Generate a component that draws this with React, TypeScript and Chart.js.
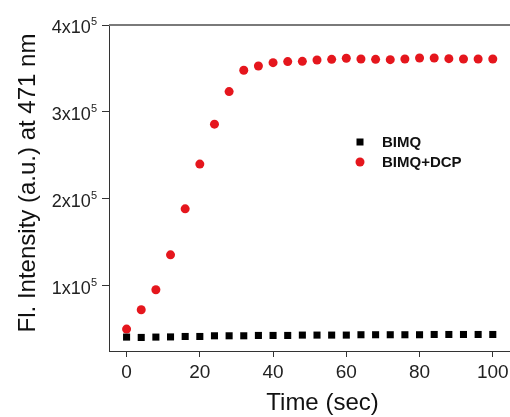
import React, { useEffect, useRef } from 'react';
import { Chart, registerables } from 'chart.js';

Chart.register(...registerables);

const timeSec = [0, 4, 8, 12, 16, 20, 24, 28, 32, 36, 40, 44, 48, 52, 56, 60, 64, 68, 72, 76, 80, 84, 88, 92, 96, 100];
const bimq = [41000, 40600, 41000, 41200, 41700, 41700, 42500, 42500, 42500, 42900, 42900, 42900, 43300, 43300, 43300, 43300, 43700, 43700, 43700, 43700, 43700, 44000, 44000, 44000, 44000, 44000];
const bimqDcp = [50200, 72400, 95400, 135600, 188500, 240000, 285900, 323400, 347900, 352900, 356700, 357900, 358200, 359800, 360500, 361700, 360900, 360500, 360100, 360900, 362100, 362100, 361300, 360900, 360900, 360900];
const seriesLabels = ['BIMQ', 'BIMQ+DCP'];
const xTickValues = [0, 20, 40, 60, 80, 100];
const yTickValues = [100000, 200000, 300000, 400000];
const xTitle = 'Time (sec)';
const yTitle = 'Fl. Intensity (a.u.) at 471 nm';

const FONT = '"Liberation Sans", Arial, sans-serif';

export default function App() {
  const ref = useRef<HTMLCanvasElement>(null);

  useEffect(() => {
    document.body.style.margin = '0';
    const canvas = ref.current;
    if (!canvas) return;

    const decor = {
      id: 'decor',
      afterDraw(chart: any) {
        const ctx = chart.ctx as CanvasRenderingContext2D;
        const area = chart.chartArea;
        const ys = chart.scales.y;
        ctx.save();
        // top frame line
        ctx.strokeStyle = '#7a7a7a';
        ctx.lineWidth = 2;
        ctx.beginPath();
        ctx.moveTo(area.left, area.top);
        ctx.lineTo(area.right, area.top);
        ctx.stroke();

        // y tick labels with superscript exponent
        ctx.fillStyle = '#222';
        ctx.textAlign = 'right';
        ctx.textBaseline = 'alphabetic';
        yTickValues.forEach((v) => {
          const py = ys.getPixelForValue(v);
          const exp = Math.floor(Math.log10(v));
          const mant = Math.round(v / Math.pow(10, exp));
          const right = area.left - 12;
          ctx.font = `11px ${FONT}`;
          const supW = ctx.measureText(String(exp)).width;
          ctx.fillText(String(exp), right, py);
          ctx.font = `18px ${FONT}`;
          ctx.fillText(`${mant}x10`, right - supW, py + 8);
        });

        // axis titles
        ctx.fillStyle = '#111';
        ctx.font = `24px ${FONT}`;
        ctx.textAlign = 'center';
        ctx.textBaseline = 'middle';
        ctx.fillText(xTitle, (area.left + area.right) / 2 + 13, area.bottom + 52);
        ctx.save();
        ctx.translate(28, (area.top + area.bottom) / 2 - 5);
        ctx.rotate(-Math.PI / 2);
        ctx.fillText(yTitle, 0, 0);
        ctx.restore();

        // legend
        const lx = area.left + 251;
        const ly = area.top + 117;
        chart.data.datasets.forEach((ds: any, i: number) => {
          const cy = ly + i * 20;
          ctx.fillStyle = ds.backgroundColor;
          if (ds.pointStyle === 'rect') {
            ctx.fillRect(lx - 3.5, cy - 3.5, 7, 7);
          } else {
            ctx.beginPath();
            ctx.arc(lx, cy, 4.5, 0, Math.PI * 2);
            ctx.fill();
          }
          ctx.fillStyle = '#111';
          ctx.font = `bold 15px ${FONT}`;
          ctx.textAlign = 'left';
          ctx.textBaseline = 'middle';
          ctx.fillText(ds.label, lx + 22, cy + 1);
        });
        ctx.restore();
      },
    };

    const chart = new Chart(canvas, {
      type: 'scatter',
      data: {
        datasets: [
          {
            label: seriesLabels[0],
            data: timeSec.map((t, i) => ({ x: t, y: bimq[i] })),
            pointStyle: 'rect',
            pointRadius: 5,
            pointBorderWidth: 0,
            backgroundColor: '#000000',
            borderColor: '#000000',
          },
          {
            label: seriesLabels[1],
            data: timeSec.map((t, i) => ({ x: t, y: bimqDcp[i] })),
            pointStyle: 'circle',
            pointRadius: 4.5,
            pointBorderWidth: 0,
            backgroundColor: '#e5161d',
            borderColor: '#e5161d',
          },
        ],
      } as any,
      options: {
        animation: false,
        responsive: false,
        devicePixelRatio: 1,
        events: [],
        layout: { autoPadding: false, padding: { top: 25, right: 0, left: 0, bottom: 0 } },
        plugins: { legend: { display: false }, tooltip: { enabled: false } },
        scales: {
          x: {
            type: 'linear',
            min: -4.8,
            max: 104.7,
            afterBuildTicks: (s: any) => {
              s.ticks = xTickValues.map((value) => ({ value }));
            },
            afterFit: (s: any) => {
              s.height = 66;
              s.paddingLeft = 0;
              s.paddingRight = 0;
            },
            grid: { drawOnChartArea: false, drawTicks: true, tickLength: 6, tickColor: '#333' },
            border: { color: '#333', width: 1 },
            ticks: { font: { size: 19, family: FONT }, color: '#222', padding: 4, maxRotation: 0 },
          },
          y: {
            type: 'linear',
            min: 25000,
            max: 400000,
            afterBuildTicks: (s: any) => {
              s.ticks = yTickValues.map((value) => ({ value }));
            },
            afterFit: (s: any) => {
              s.width = 109;
              s.paddingTop = 0;
              s.paddingBottom = 0;
            },
            grid: { drawOnChartArea: false, drawTicks: true, tickLength: 7, tickColor: '#333' },
            border: { color: '#333', width: 1 },
            ticks: { display: false },
          },
        },
      } as any,
      plugins: [decor],
    });

    return () => chart.destroy();
  }, []);

  return <canvas ref={ref} width={510} height={417} style={{ display: 'block', width: 510, height: 417 }} />;
}
